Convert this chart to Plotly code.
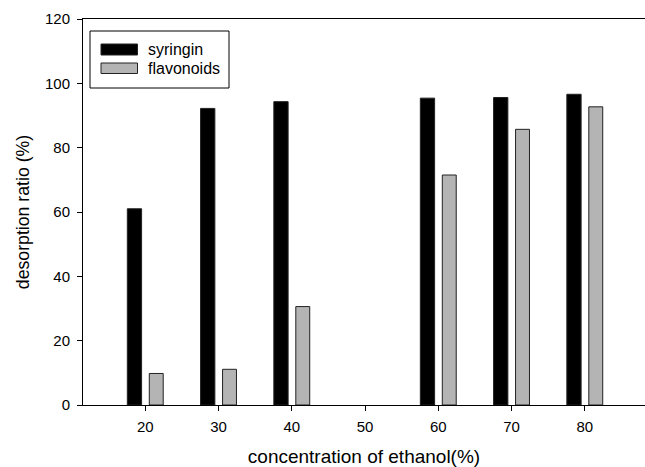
import plotly.graph_objects as go

# ---- data ----
concentration = [20, 30, 40, 60, 70, 80]
syringin = [61.0, 92.2, 94.3, 95.4, 95.6, 96.6]
flavonoids = [9.8, 11.1, 30.6, 71.5, 85.7, 92.7]
x_ticks = [20, 30, 40, 50, 60, 70, 80]
y_ticks = [0, 20, 40, 60, 80, 100, 120]
series_names = ["syringin", "flavonoids"]

W, H = 645, 467
ML, MR, MT, MB = 83, 0, 19, 62
PW, PH = W - ML - MR, H - MT - MB

FONT = "Arial, Liberation Sans, sans-serif"
GREY = "#b4b4b4"

fig = go.Figure()
fig.add_trace(go.Bar(x=concentration, y=syringin, name=series_names[0],
                     width=1.95, offset=-2.45,
                     marker=dict(color="black", line=dict(color="#222222", width=1)),
                     showlegend=False))
fig.add_trace(go.Bar(x=concentration, y=flavonoids, name=series_names[1],
                     width=1.9, offset=0.55,
                     marker=dict(color=GREY, line=dict(color="#222222", width=1)),
                     showlegend=False))


def px_x(p):
    return (p - ML) / PW


def px_y(p):
    return (H - MB - p) / PH


shapes = [
    # legend box
    dict(type="rect", xref="paper", yref="paper",
         x0=px_x(90), x1=px_x(229), y0=px_y(88), y1=px_y(31),
         line=dict(color="black", width=1), fillcolor="white", layer="above"),
    dict(type="rect", xref="paper", yref="paper",
         x0=px_x(101), x1=px_x(137.5), y0=px_y(55), y1=px_y(44),
         line=dict(color="#222222", width=1), fillcolor="black", layer="above"),
    dict(type="rect", xref="paper", yref="paper",
         x0=px_x(101), x1=px_x(137.5), y0=px_y(73.5), y1=px_y(63),
         line=dict(color="#222222", width=1), fillcolor=GREY, layer="above"),
]
annotations = [
    dict(text=series_names[0], xref="paper", yref="paper", x=px_x(146), y=px_y(49.5),
         xanchor="left", yanchor="middle", showarrow=False,
         font=dict(family=FONT, size=16, color="black")),
    dict(text=series_names[1], xref="paper", yref="paper", x=px_x(146), y=px_y(68.5),
         xanchor="left", yanchor="middle", showarrow=False,
         font=dict(family=FONT, size=16, color="black")),
]

fig.update_layout(
    width=W, height=H,
    margin=dict(l=ML, r=MR, t=MT, b=MB, pad=0),
    paper_bgcolor="white", plot_bgcolor="white",
    barmode="overlay",
    font=dict(family=FONT, size=15, color="black"),
    shapes=shapes, annotations=annotations,
    xaxis=dict(range=[11.5, 88.22], tickvals=x_ticks, ticks="outside", ticklen=5,
               tickcolor="black", showline=True, linecolor="black", linewidth=1,
               mirror=True, showgrid=False, zeroline=False,
               tickfont=dict(size=15), ticklabelstandoff=3,
               title=dict(text="concentration of ethanol(%)", font=dict(size=19), standoff=17)),
    yaxis=dict(range=[0, 120], tickvals=y_ticks, ticks="outside", ticklen=5,
               tickcolor="black", showline=True, linecolor="black", linewidth=1,
               showgrid=False, zeroline=False, tickfont=dict(size=15),
               ticklabelstandoff=4,
               title=dict(text="desorption ratio (%)", font=dict(size=17.7), standoff=10)),
)

fig.write_html("out.html")
